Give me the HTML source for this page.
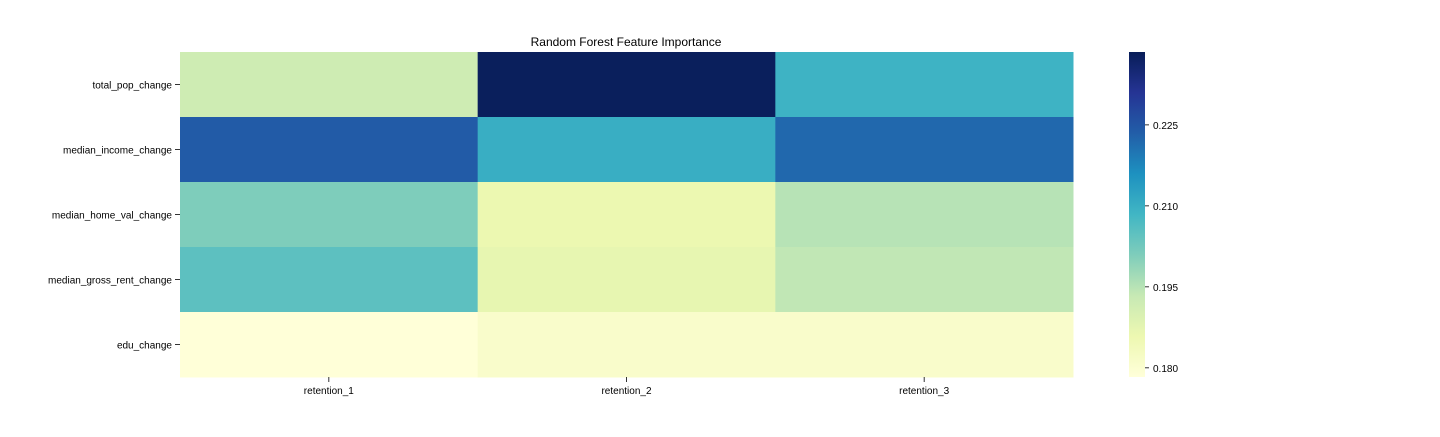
<!DOCTYPE html>
<html><head><meta charset="utf-8"><style>
body{margin:0;background:#fff;font-family:"Liberation Sans",sans-serif;}
svg text{font-family:"Liberation Sans",sans-serif;fill:#000;}
</style></head><body>
<svg id="chart" width="1440" height="432" xmlns="http://www.w3.org/2000/svg">
<text x="626" y="46" text-anchor="middle" font-size="12">Random Forest Feature Importance</text>
<g id="cells"></g><g id="ylabels"></g><g id="xlabels"></g>
<defs><linearGradient id="cbgrad" x1="0" y1="1" x2="0" y2="0"></linearGradient></defs>
<rect x="1129" y="52" width="16" height="325" fill="url(#cbgrad)"/>
<g id="cbticks"></g>
</svg>
<script>
const features = ["total_pop_change","median_income_change","median_home_val_change","median_gross_rent_change","edu_change"];
const retentions = ["retention_1","retention_2","retention_3"];
const importance = [
  [0.192,0.238,0.209],
  [0.224,0.210,0.222],
  [0.201,0.186,0.195],
  [0.205,0.187,0.194],
  [0.1785,0.181,0.181]
];
const cbTicks = [0.180,0.195,0.210,0.225];
const cbTickLabels = ["0.180","0.195","0.210","0.225"];
const vmin = 0.1783, vmax = 0.2385;

const stops = ["#ffffd9","#edf8b1","#c7e9b4","#7fcdbb","#41b6c4","#1d91c0","#225ea8","#253494","#081d58"];
function hex(h){return [1,3,5].map(i=>parseInt(h.substr(i,2),16));}
function cmap(t){t=Math.max(0,Math.min(1,t));const p=t*(stops.length-1);const i=Math.min(Math.floor(p),stops.length-2);const f=p-i;
 const a=hex(stops[i]),b=hex(stops[i+1]);return "rgb("+a.map((v,k)=>Math.round(v+(b[k]-v)*f)).join(",")+")";}
const L=180,R=1073,T=52,B=377;
const cw=(R-L)/retentions.length, ch=(B-T)/features.length;
const xPos=j=>L+j*cw, yPos=i=>T+i*ch;
const cbY=v=>B-(v-vmin)/(vmax-vmin)*(B-T);
const NS="http://www.w3.org/2000/svg";
function mk(tag,attrs,parent){const e=document.createElementNS(NS,tag);for(const k in attrs)e.setAttribute(k,attrs[k]);parent.appendChild(e);return e;}
const cells=document.getElementById('cells');
importance.forEach((row,i)=>row.forEach((v,j)=>{
  const r=mk('rect',{x:xPos(j),y:yPos(i),width:cw+0.5,height:ch+0.5,fill:cmap((v-vmin)/(vmax-vmin))},cells);
  
  
}));
const yl=document.getElementById('ylabels');
features.forEach((f,i)=>{
  const y=yPos(i)+ch/2;
  mk('line',{x1:175,x2:180,y1:y,y2:y,stroke:'#000','stroke-width':0.8},yl);
  const t=mk('text',{x:172,y:y+4,'text-anchor':'end','font-size':10},yl);t.textContent=f;
  
  
});
const xl=document.getElementById('xlabels');
retentions.forEach((r,j)=>{
  const x=xPos(j)+cw/2;
  mk('line',{x1:x,x2:x,y1:377,y2:382,stroke:'#000','stroke-width':0.8},xl);
  const t=mk('text',{x:x,y:394,'text-anchor':'middle','font-size':10},xl);t.textContent=r;
  
  
});
const g=document.getElementById('cbgrad');
stops.forEach((s,i)=>mk('stop',{offset:i/(stops.length-1),'stop-color':s},g));
const cbt=document.getElementById('cbticks');
cbTicks.forEach((v,i)=>{
  const y=cbY(v);
  mk('line',{x1:1145,x2:1149,y1:y,y2:y,stroke:'#000','stroke-width':0.8},cbt);
  const t=mk('text',{x:1153,y:y+4,'font-size':10},cbt);t.textContent=cbTickLabels[i];
  
  
});
</script>
</body></html>
